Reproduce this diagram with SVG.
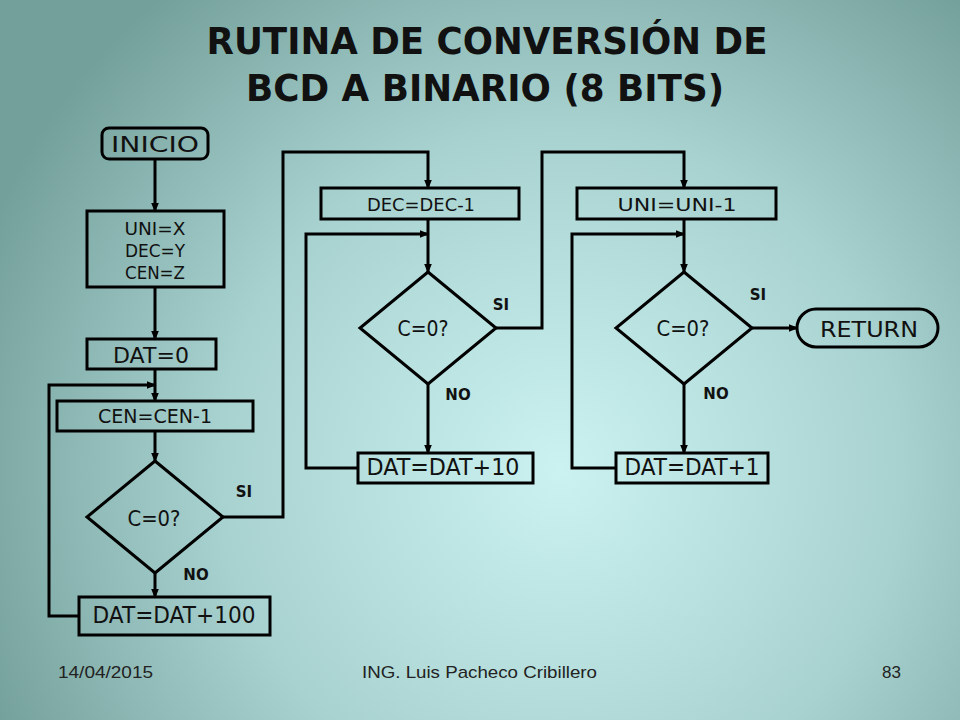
<svg xmlns="http://www.w3.org/2000/svg" width="960" height="720" viewBox="0 0 960 720">
<defs>
<radialGradient id="bg" gradientUnits="userSpaceOnUse" cx="560" cy="470" r="620">
<stop offset="0" stop-color="#cbf2f0"/>
<stop offset="0.55" stop-color="#a8d2d0"/>
<stop offset="1" stop-color="#74a09b"/>
</radialGradient>
<marker id="arr" markerUnits="userSpaceOnUse" markerWidth="12" markerHeight="10" refX="8.5" refY="4" orient="auto">
<path d="M0,0 L10,4 L0,8 z" fill="#000"/>
</marker>
<style>
.box{fill:none;stroke:#000;stroke-width:3}
.t{font-family:"DejaVu Sans","Liberation Sans",sans-serif;fill:#111;text-anchor:middle;dominant-baseline:central}
.lbl{font-family:"DejaVu Sans","Liberation Sans",sans-serif;font-weight:bold;font-size:15px;fill:#111;text-anchor:middle;dominant-baseline:central}
.ttl{font-family:"DejaVu Sans","Liberation Sans",sans-serif;font-weight:bold;font-size:38px;fill:#111;text-anchor:middle}
.ft{font-family:"Liberation Sans",Arial,sans-serif;font-size:17px;fill:#222}
.c{fill:none;stroke:#000;stroke-width:3;marker-end:url(#arr)}
</style>
</defs>
<rect width="960" height="720" fill="url(#bg)"/>

<g id="title">
<text class="ttl" x="487" y="54" textLength="561" lengthAdjust="spacingAndGlyphs">RUTINA DE CONVERSIÓN DE</text>
<text class="ttl" x="485" y="101" textLength="478" lengthAdjust="spacingAndGlyphs">BCD A BINARIO (8 BITS)</text>
</g>

<g id="connectors">
<path class="c" d="M155,159 V211"/>
<path class="c" d="M155,287 V339"/>
<path class="c" d="M155,369 V401"/>
<path class="c" d="M79,616 H49 V385 H155"/>
<path class="c" d="M155,431 V461"/>
<path class="c" d="M155,573 V597"/>
<path class="c" d="M223,517 H283 V152 H428 V188"/>
<path class="c" d="M428,219 V272"/>
<path class="c" d="M358,468 H306 V234 H428"/>
<path class="c" d="M428,384 V453"/>
<path class="c" d="M496,328 H542 V152 H684 V188"/>
<path class="c" d="M684,219 V272"/>
<path class="c" d="M616,468 H572 V234 H684"/>
<path class="c" d="M684,384 V453"/>
<path class="c" d="M752,328 H797"/>
</g>

<g id="inicio">
<rect class="box" x="102" y="128" width="106" height="31" rx="7"/>
<text class="t" x="155" y="144" font-size="22" textLength="88" lengthAdjust="spacingAndGlyphs">INICIO</text>
</g>
<g id="init">
<rect class="box" x="87" y="211" width="137" height="76"/>
<text class="t" x="155" y="228" font-size="18" textLength="61" lengthAdjust="spacingAndGlyphs">UNI=X</text>
<text class="t" x="155" y="250" font-size="18" textLength="60" lengthAdjust="spacingAndGlyphs">DEC=Y</text>
<text class="t" x="155" y="272" font-size="18" textLength="60" lengthAdjust="spacingAndGlyphs">CEN=Z</text>
</g>
<g id="dat0">
<rect class="box" x="87" y="339" width="129" height="30"/>
<text class="t" x="151" y="355" font-size="22" textLength="76" lengthAdjust="spacingAndGlyphs">DAT=0</text>
</g>
<g id="cen">
<rect class="box" x="57" y="401" width="196" height="30"/>
<text class="t" x="155" y="416" font-size="19" textLength="114" lengthAdjust="spacingAndGlyphs">CEN=CEN-1</text>
</g>
<g id="dec1">
<polygon class="box" points="155,461 223,517 155,573 87,517"/>
<text class="t" x="154" y="518" font-size="22" textLength="53" lengthAdjust="spacingAndGlyphs">C=0?</text>
</g>
<g id="dat100">
<rect class="box" x="79" y="597" width="191" height="38"/>
<text class="t" x="174" y="615" font-size="23" textLength="163" lengthAdjust="spacingAndGlyphs">DAT=DAT+100</text>
</g>
<g id="decdec">
<rect class="box" x="321" y="188" width="198" height="31"/>
<text class="t" x="421" y="204" font-size="18" textLength="108" lengthAdjust="spacingAndGlyphs">DEC=DEC-1</text>
</g>
<g id="dec2">
<polygon class="box" points="428,272 496,328 428,384 360,328"/>
<text class="t" x="423" y="329" font-size="21" textLength="51" lengthAdjust="spacingAndGlyphs">C=0?</text>
</g>
<g id="dat10">
<rect class="box" x="358" y="453" width="175" height="30"/>
<text class="t" x="443" y="467" font-size="23" textLength="153" lengthAdjust="spacingAndGlyphs">DAT=DAT+10</text>
</g>
<g id="uniuni">
<rect class="box" x="577" y="188" width="199" height="31"/>
<text class="t" x="677" y="204" font-size="18" textLength="119" lengthAdjust="spacingAndGlyphs">UNI=UNI-1</text>
</g>
<g id="dec3">
<polygon class="box" points="684,272 752,328 684,384 616,328"/>
<text class="t" x="683" y="329" font-size="21" textLength="53" lengthAdjust="spacingAndGlyphs">C=0?</text>
</g>
<g id="dat1">
<rect class="box" x="616" y="453" width="152" height="30"/>
<text class="t" x="692" y="467" font-size="23" textLength="135" lengthAdjust="spacingAndGlyphs">DAT=DAT+1</text>
</g>
<g id="return">
<rect class="box" x="797" y="309" width="141" height="38" rx="19"/>
<text class="t" x="869" y="329" font-size="22" textLength="98" lengthAdjust="spacingAndGlyphs">RETURN</text>
</g>

<g id="labels">
<text class="lbl" x="244" y="492">SI</text>
<text class="lbl" x="196" y="575">NO</text>
<text class="lbl" x="501" y="305">SI</text>
<text class="lbl" x="458" y="395">NO</text>
<text class="lbl" x="758" y="295">SI</text>
<text class="lbl" x="716" y="394">NO</text>
</g>

<g id="footer">
<text class="ft" x="58" y="678" textLength="95" lengthAdjust="spacingAndGlyphs">14/04/2015</text>
<text class="ft" x="362" y="678" textLength="235" lengthAdjust="spacingAndGlyphs">ING. Luis Pacheco Cribillero</text>
<text class="ft" x="882" y="678">83</text>
</g>
</svg>
